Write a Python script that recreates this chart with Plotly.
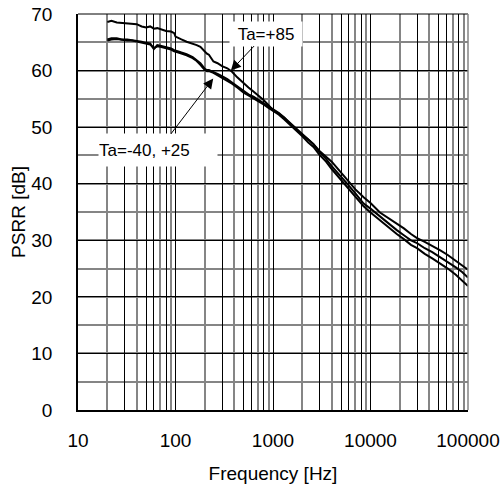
import plotly.graph_objects as go

freq = [20, 22, 25, 28, 32, 36, 40, 45, 50, 55, 60, 65, 70, 80, 90, 97, 100, 107, 115,
        130, 150, 165, 180, 200, 210, 220, 245, 270, 300, 340, 380, 430, 500, 560, 630,
        700, 800, 900, 1000, 1150, 1300, 1500, 1750, 2000, 2300, 2600, 3000, 3500, 4000,
        4700, 5700, 7000, 8500, 10000, 12500, 15000, 18600, 22000, 26000, 30000, 36000,
        43000, 52000, 62000, 75000, 87000, 100000]

psrr_85 = [68.6, 68.8, 68.5, 68.4, 68.3, 68.2, 68.2, 67.8, 67.6, 67.8, 67.4, 67.5, 67.3,
           67.0, 66.9, 66.6, 66.0, 65.7, 65.5, 65.1, 64.8, 64.5, 64.2, 63.3, 63.0, 62.8,
           61.6, 61.3, 60.8, 60.4, 59.8, 58.8, 57.7, 57.0, 56.3, 55.7, 54.8, 53.9, 53.0,
           52.4, 51.7, 50.6, 49.5, 48.6, 47.8, 47.0, 45.8, 44.8, 43.9, 42.5, 40.8, 39.0,
           37.6, 36.6, 34.9, 34.0, 33.0, 32.1, 31.1, 30.4, 29.7, 29.0, 28.2, 27.4, 26.4,
           25.6, 24.8]

psrr_25 = [65.5, 65.7, 65.7, 65.5, 65.5, 65.4, 65.3, 65.1, 64.9, 64.8, 63.8, 64.5, 64.4,
           64.2, 63.9, 63.6, 63.5, 63.4, 63.2, 62.9, 62.4, 61.9, 61.3, 60.3, 60.1, 60.1,
           59.8, 59.4, 59.0, 58.5, 57.9, 57.2, 56.3, 55.8, 55.4, 54.9, 54.2, 53.7, 53.2,
           52.5, 51.7, 50.7, 49.8, 48.8, 47.8, 47.0, 45.6, 44.4, 43.1, 41.8, 40.1, 38.3,
           36.5, 35.6, 34.2, 33.1, 31.8, 30.9, 30.0, 29.5, 28.6, 27.9, 27.0, 26.2, 25.2,
           24.4, 23.4]

psrr_m40 = [65.3, 65.5, 65.6, 65.4, 65.3, 65.3, 65.1, 65.0, 64.7, 64.6, 64.0, 64.3, 64.2,
            64.0, 63.7, 63.4, 63.3, 63.2, 63.0, 62.7, 62.2, 61.7, 61.0, 60.1, 59.9, 59.9,
            59.6, 59.2, 58.8, 58.3, 57.7, 57.0, 56.1, 55.6, 55.1, 54.6, 54.0, 53.4, 52.9,
            52.2, 51.4, 50.4, 49.4, 48.4, 47.3, 46.5, 45.1, 43.9, 42.6, 41.2, 39.5, 37.7,
            36.0, 34.9, 33.5, 32.4, 31.1, 30.2, 29.2, 28.6, 27.6, 26.8, 25.9, 25.0, 23.9,
            22.9, 21.9]

y_ticks = [0, 10, 20, 30, 40, 50, 60, 70]
decades = [10, 100, 1000, 10000, 100000]
black_mults = [3, 5, 6, 8]
grey_mults = [2, 4, 7, 9]

major_vals = list(decades)
major_text = [str(d) for d in decades]
for d in decades[:-1]:
    for m in black_mults:
        major_vals.append(d * m)
        major_text.append("")
minor_vals = [d * m for d in decades[:-1] for m in grey_mults]

FONT = "Liberation Sans, Arial, sans-serif"

fig = go.Figure()
for vals in (psrr_85, psrr_25, psrr_m40):
    fig.add_trace(go.Scatter(x=freq, y=vals, mode="lines",
                             line=dict(color="black", width=2), showlegend=False))

fig.update_layout(
    width=502, height=488,
    margin=dict(l=78, r=34, t=14, b=78),
    paper_bgcolor="white", plot_bgcolor="white",
    font=dict(family=FONT, size=19, color="black"),
    xaxis=dict(
        type="log", range=[1, 5], automargin=False, ticklabeloverflow="allow",
        tickmode="array", tickvals=major_vals, ticktext=major_text,
        showgrid=True, gridcolor="black", gridwidth=1,
        minor=dict(tickmode="array", tickvals=minor_vals, showgrid=True,
                   gridcolor="#858585", gridwidth=1.5, ticks=""),
        showline=True, linecolor="black", linewidth=1.5, mirror=False,
        ticks="", ticklabelstandoff=12,
        title=dict(text="Frequency [Hz]", standoff=17, font=dict(size=19)),
        zeroline=False,
    ),
    yaxis=dict(
        range=[0, 70], tickmode="array", tickvals=y_ticks, automargin=False,
        ticklabeloverflow="allow",
        showgrid=True, gridcolor="black", gridwidth=1,
        minor=dict(dtick=5, showgrid=True, gridcolor="#858585", gridwidth=1.5, ticks=""),
        showline=True, linecolor="black", linewidth=1.5,
        ticks="", ticklabelstandoff=20,
        title=dict(text="PSRR [dB]", standoff=1, font=dict(size=19)),
        zeroline=False,
    ),
    shapes=[
        dict(type="line", xref="paper", yref="paper", x0=0, x1=1, y0=1, y1=1,
             line=dict(color="black", width=1)),
        dict(type="line", xref="paper", yref="paper", x0=1, x1=1, y0=0, y1=1,
             line=dict(color="#858585", width=1.5)),
    ],
)

fig.add_annotation(x=2.568, y=60.0, xref="x", yref="y", text="Ta=+85",
                   showarrow=True, arrowhead=2, arrowsize=2, arrowwidth=1,
                   arrowcolor="black", ax=35, ay=-37, bgcolor="white",
                   width=72, height=24, borderpad=0,
                   font=dict(family=FONT, size=17, color="black"))
fig.add_annotation(x=2.387, y=58.6, xref="x", yref="y", text="Ta=-40, +25",
                   showarrow=True, arrowhead=2, arrowsize=2, arrowwidth=1,
                   arrowcolor="black", ax=-55, ay=72, bgcolor="white",
                   width=118, height=32, borderpad=0, align="left",
                   font=dict(family=FONT, size=17, color="black"))

fig.write_html("out.html", config={"displayModeBar": False},
               post_script="document.body.style.margin='0px';document.body.style.overflow='hidden';")
